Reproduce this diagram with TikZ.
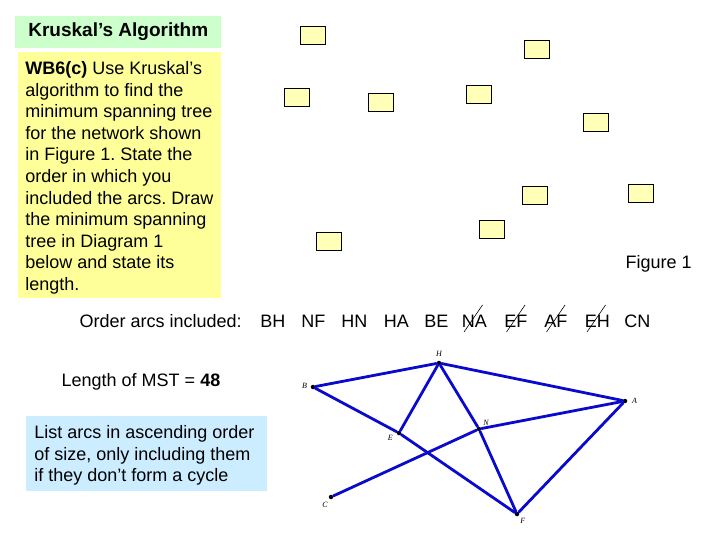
\documentclass[tikz,border=0pt]{standalone}
\usepackage{fontspec}
\setmainfont{Liberation Sans}
\newfontfamily\labelfont{Liberation Serif}
\usetikzlibrary{positioning, calc}
\definecolor{titlegreen}{HTML}{CCFFCC}
\definecolor{notepad}{HTML}{FFFF99}
\definecolor{weightpad}{HTML}{FFFFB8}
\definecolor{hintblue}{HTML}{CCECFF}
\definecolor{arcblue}{HTML}{0A0ACC}
\frenchspacing

\begin{document}
\begin{tikzpicture}[x=1pt, y=-1pt, thick]
    \tikzstyle{weight} = [rectangle, draw, fill=weightpad, line width=0.8pt, minimum width=25pt, minimum height=18pt, inner sep=0pt]
    \tikzstyle{vertex} = [circle, fill=black, inner sep=0pt, minimum size=4.5pt]
    \tikzstyle{vlabel} = [font=\labelfont\itshape\fontsize{8}{9}\selectfont, inner sep=0pt]
    \tikzstyle{arc} = [draw, line width=2.8pt, arcblue, line cap=round]
    \tikzstyle{arcname} = [anchor=west, inner sep=0pt, font=\fontsize{18}{21.6}\selectfont]
    \tikzstyle{cross} = [draw, line width=0.6pt]

    \useasboundingbox (0,0) rectangle (720,540);

    % Text boxes
    \node [fill=titlegreen, minimum width=206pt, minimum height=32pt, inner sep=0pt, font=\bfseries\fontsize{19}{22}\selectfont] (title) at (118.3,31.8) {Kruskal’s Algorithm};
    \fill [notepad] (18,51.7) rectangle (220.7,298.3);
    \node [anchor=north west, inner sep=0pt, align=left, font=\fontsize{18}{21.6}\selectfont] (task) at (25,61)
        {\textbf{WB6(c)} Use Kruskal’s\\ algorithm to find the\\ minimum spanning tree\\ for the network shown\\ in Figure 1. State the\\ order in which you\\ included the arcs. Draw\\ the minimum spanning\\ tree in Diagram 1\\ below and state its\\ length.};
    \node [fill=hintblue, minimum width=241pt, minimum height=75pt, inner sep=0pt] (hintbox) at (146.5,453.5) {};
    \node [anchor=west, inner sep=0pt, align=left, font=\fontsize{18}{21.6}\selectfont] (hint) at (34,455.5)
        {List arcs in ascending order\\ of size, only including them\\ if they don’t form a cycle};
    \node [inner sep=0pt, font=\fontsize{18}{21.6}\selectfont] (length) at (141,382) {Length of MST = \textbf{48}};
    \node [anchor=east, inner sep=0pt, font=\fontsize{18}{21.6}\selectfont] (fig) at (692,264) {Figure 1};

    % Weight boxes
    \foreach \x/\y [count=\i] in {312.7/35.2, 536.8/49.3, 296.7/97.3, 380.8/102.3, 478.7/94.3, 595.7/122.3, 534.8/195.2, 640.8/193.3, 491.8/229.3, 328.8/241.3}
        \node [weight] (w\i) at (\x,\y) {};

    % Order of arcs
    \node [arcname, anchor=east] (order) at (242,321) {Order arcs included:};
    \node [arcname] (bh) at (260,321) {BH};
    \node [arcname] (nf) at (301,321) {NF};
    \node [arcname] (hn) at (341,321) {HN};
    \node [arcname] (ha) at (383.5,321) {HA};
    \node [arcname] (be) at (424,321) {BE};
    \node [arcname] (na) at (461.5,321) {NA};
    \node [arcname] (ef) at (504,321) {EF};
    \node [arcname] (af) at (544,321) {AF};
    \node [arcname] (eh) at (584.5,321) {EH};
    \node [arcname] (cn) at (624,321) {CN};
    \foreach \a in {na, ef, af, eh}
        \path [cross] ($(\a.west)+(2.5,11)$) -- ($(\a.west)+(21,-16)$);

    % Network
    \node [vertex] (H) at (439,363) {};
    \node [vertex] (B) at (313,387) {};
    \node [vertex] (A) at (625,401) {};
    \node [vertex] (N) at (479,429) {};
    \node [vertex] (E) at (399,433) {};
    \node [vertex] (C) at (331,497) {};
    \node [vertex] (F) at (517,514) {};
    \node [vlabel, above=3pt of H] {H};
    \node [vlabel, left=3pt of B, yshift=1pt] {B};
    \node [vlabel, right=4pt of A] {A};
    \node [vlabel, above right=1pt and 2pt of N] {N};
    \node [vlabel, below left=0pt and 4pt of E] {E};
    \node [vlabel, below left=3pt and 1pt of C] {C};
    \node [vlabel, below right=2pt and 1pt of F] {F};

    % Connections
    \path [arc] (B) -- (H);
    \path [arc] (H) -- (A);
    \path [arc] (H) -- (E);
    \path [arc] (H) -- (N);
    \path [arc] (N) -- (F);
    \path [arc] (B) -- (E);
    \path [arc] (E) -- (F);
    \path [arc] (C) -- (N);
    \path [arc] (N) -- (A);
    \path [arc] (A) -- (F);
\end{tikzpicture}
\end{document}
